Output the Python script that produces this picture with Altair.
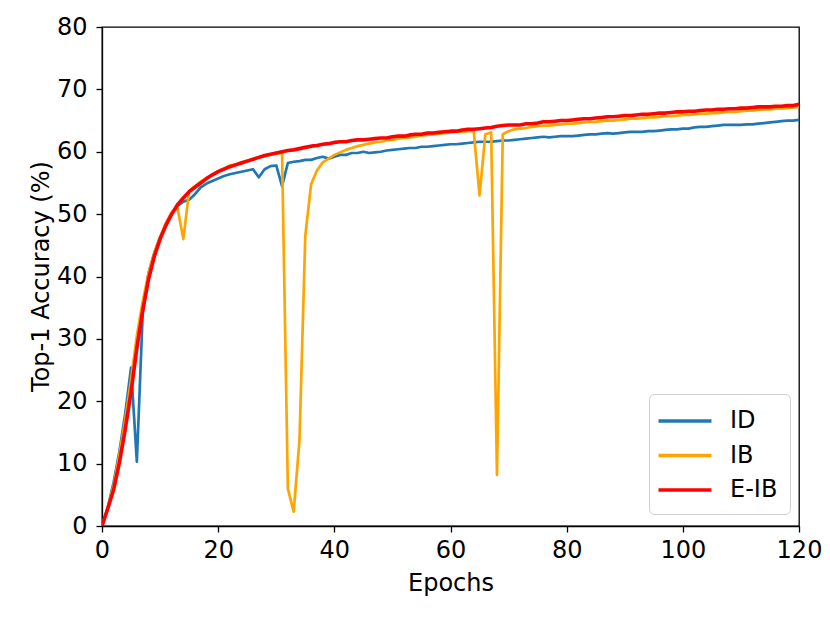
import altair as alt
import pandas as pd

epochs = list(range(121))

id_acc = [0, 3.0, 7.0, 12.0, 18.0, 25.4, 10.3, 34.0, 40.5, 43.8,
          46.3, 48.4, 50.2, 51.3, 52.0, 52.3, 53.2, 54.3, 54.9, 55.3,
          55.7, 56.1, 56.4, 56.6, 56.8, 57.0, 57.2, 55.9, 57.2, 57.7,
          57.8, 54.5, 58.2, 58.4, 58.5, 58.7, 58.7, 59.0, 59.2, 58.9,
          59.2, 59.5, 59.5, 59.8, 59.8, 60.0, 59.8, 59.9, 60.0, 60.2,
          60.3, 60.4, 60.5, 60.6, 60.6, 60.8, 60.8, 60.9, 61.0, 61.1,
          61.2, 61.2, 61.3, 61.4, 61.5, 61.6, 61.6, 61.6, 61.7, 61.8,
          61.8, 61.9, 62.0, 62.1, 62.2, 62.3, 62.4, 62.3, 62.4, 62.5,
          62.5, 62.5, 62.6, 62.7, 62.8, 62.8, 62.9, 63.0, 62.9, 63.0,
          63.1, 63.2, 63.2, 63.2, 63.3, 63.3, 63.4, 63.5, 63.6, 63.6,
          63.7, 63.7, 63.9, 64.0, 64.0, 64.1, 64.2, 64.3, 64.3, 64.3,
          64.3, 64.4, 64.4, 64.5, 64.6, 64.7, 64.8, 64.9, 65.0, 65.0,
          65.1]

ib_acc = [0, 3.0, 6.5, 11.5, 17.0, 23.5, 30.5, 36.0, 40.5, 43.8,
          46.3, 48.6, 50.3, 51.0, 46.0, 53.7, 54.5, 55.2, 55.8, 56.3,
          56.9, 57.3, 57.8, 58.0, 58.3, 58.6, 58.8, 59.1, 59.3, 59.5,
          59.7, 59.8, 6.0, 2.3, 13.8, 46.5, 54.8, 57.0, 58.3, 58.9,
          59.5, 59.9, 60.3, 60.6, 60.9, 61.1, 61.3, 61.5, 61.6, 61.8,
          61.9, 62.1, 62.2, 62.3, 62.4, 62.6, 62.7, 62.8, 62.9, 63.0,
          63.1, 63.2, 63.2, 63.3, 63.3, 53.0, 62.8, 63.1, 8.2, 62.8,
          63.3, 63.6, 63.7, 63.8, 64.0, 64.1, 64.2, 64.2, 64.3, 64.4,
          64.5, 64.5, 64.6, 64.7, 64.8, 64.8, 64.9, 65.0, 65.0, 65.1,
          65.2, 65.3, 65.3, 65.4, 65.5, 65.5, 65.6, 65.7, 65.7, 65.8,
          65.9, 65.9, 66.0, 66.1, 66.1, 66.2, 66.2, 66.3, 66.4, 66.4,
          66.5, 66.6, 66.6, 66.7, 66.8, 66.8, 66.9, 66.9, 67.0, 67.1,
          67.2]

eib_acc = [0, 2.8, 5.8, 10.2, 15.5, 21.5, 28.5, 34.5, 39.5, 43.2,
           46.0, 48.2, 50.0, 51.5, 52.6, 53.6, 54.3, 55.0, 55.7, 56.3,
           56.8, 57.2, 57.6, 57.9, 58.2, 58.5, 58.8, 59.1, 59.4, 59.6,
           59.8, 60.0, 60.2, 60.3, 60.5, 60.7, 60.9, 61.0, 61.2, 61.3,
           61.5, 61.6, 61.6, 61.8, 61.9, 61.9, 62.0, 62.1, 62.2, 62.2,
           62.4, 62.5, 62.5, 62.7, 62.8, 62.8, 63.0, 63.0, 63.1, 63.2,
           63.3, 63.3, 63.5, 63.6, 63.6, 63.7, 63.8, 63.9, 64.1, 64.2,
           64.3, 64.3, 64.3, 64.5, 64.5, 64.6, 64.8, 64.8, 64.9, 65.0,
           65.0, 65.1, 65.2, 65.3, 65.3, 65.4, 65.5, 65.6, 65.6, 65.7,
           65.8, 65.8, 65.9, 66.0, 66.0, 66.1, 66.2, 66.2, 66.3, 66.4,
           66.4, 66.5, 66.5, 66.6, 66.7, 66.7, 66.8, 66.8, 66.9, 66.9,
           67.0, 67.0, 67.1, 67.2, 67.2, 67.2, 67.3, 67.3, 67.4, 67.4,
           67.6]

series_names = ["ID", "IB", "E-IB"]
series_colors = ["#1f77b4", "#ffa500", "#ff0000"]
series_widths = [2.7, 2.7, 3.6]
x_ticks = [0, 20, 40, 60, 80, 100, 120]
y_ticks = [0, 10, 20, 30, 40, 50, 60, 70, 80]

rows = []
for name, vals in zip(series_names, [id_acc, ib_acc, eib_acc]):
    for e, v in zip(epochs, vals):
        rows.append({"epoch": e, "acc": v, "series": name})
df = pd.DataFrame(rows)

FONT = "DejaVu Sans"

color = alt.Color(
    "series:N",
    scale=alt.Scale(domain=series_names, range=series_colors),
    legend=alt.Legend(
        title=None,
        orient="none",
        legendX=547,
        legendY=367,
        symbolType="M-2,0H2",
        symbolSize=702,
        symbolStrokeWidth=3.5,
        symbolOffset=9,
        labelFontSize=24,
        labelFont=FONT,
        labelColor="black",
        labelOffset=30,
        rowPadding=7.5,
        padding=12,
        strokeColor="#d0d0d0",
        fillColor="rgba(255,255,255,0.8)",
        cornerRadius=5,
    ),
)

x = alt.X(
    "epoch:Q",
    scale=alt.Scale(domain=[0, 120], nice=False),
    axis=alt.Axis(values=x_ticks, title="Epochs", titleY=64,
                  titleBaseline="alphabetic", format="d",
                  labelFlush=False, labelPadding=6),
)
y = alt.Y(
    "acc:Q",
    scale=alt.Scale(domain=[0, 80], nice=False),
    axis=alt.Axis(values=y_ticks, title="Top-1 Accuracy (%)", titleX=-61,
                  titleY=249, titleBaseline="middle", titleAlign="center",
                  titleAngle=-90, format="d", labelFlush=False,
                  labelPadding=9),
)

layers = []
for name, w in zip(series_names, series_widths):
    layers.append(
        alt.Chart(df)
        .transform_filter(alt.datum.series == name)
        .mark_line(strokeWidth=w, strokeJoin="round", strokeCap="butt", clip=True)
        .encode(x=x, y=y, color=color, order="epoch:Q")
    )

chart = (
    alt.layer(*layers)
    .properties(
        width=697,
        height=499,
        autosize=alt.AutoSizeParams(type="none"),
        padding={"left": 94, "top": 19, "right": 23, "bottom": 82},
        background="white",
    )
    .configure_view(stroke="black", strokeWidth=1.3)
    .configure_axis(
        grid=False,
        domainColor="black",
        domainWidth=1.3,
        tickColor="black",
        tickWidth=1.3,
        tickSize=6,
        labelFont=FONT,
        labelFontSize=24,
        labelColor="black",
        titleFont=FONT,
        titleFontSize=24,
        titleFontWeight="normal",
        titleColor="black",
    )
)

chart.save("out.html", embed_options={"renderer": "svg", "actions": False})
